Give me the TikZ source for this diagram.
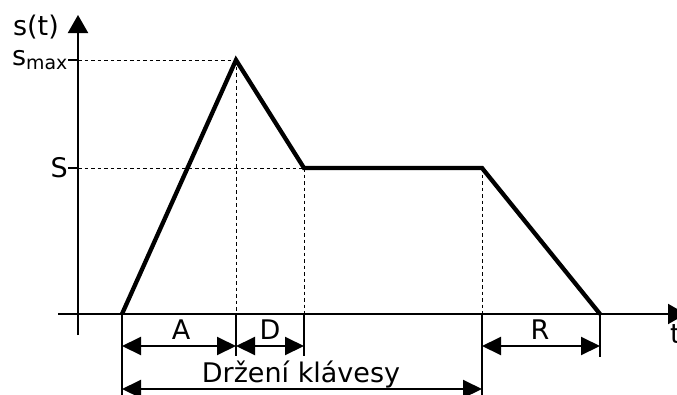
\documentclass[tikz,border=0pt]{standalone}
\usepackage{fontspec}
\setmainfont{DejaVu Sans}
\usetikzlibrary{arrows.meta}
\begin{document}
\begin{tikzpicture}[x=1pt,y=-1pt,
  axis/.style={line width=2pt,-{Triangle[length=18pt,width=20pt]}},
  curve/.style={line width=4.3pt,line join=miter},
  guide/.style={line width=1pt,dash pattern=on 3.5pt off 3pt},
  ext/.style={line width=1.3pt},
  dim/.style={line width=2pt,{Triangle[length=19pt,width=18pt]}-{Triangle[length=19pt,width=18pt]}},
  lbl/.style={font=\fontsize{27}{32}\selectfont,inner sep=0pt}]
\useasboundingbox (0,0) rectangle (677,394);
% key points
\coordinate (o) at (78,314);
\coordinate (p0) at (122,314);
\coordinate (p1) at (236,60);
\coordinate (p2) at (304,168);
\coordinate (p3) at (482,168);
\coordinate (p4) at (600,314);
\coordinate (ybot) at (78,335);
\coordinate (ytop) at (78,15);
\coordinate (xl) at (58,314);
\coordinate (xr) at (686,314);
\coordinate (ysm) at (78,60);
\coordinate (ys) at (78,168);
\coordinate (tsm) at (68,60);
\coordinate (ts) at (68,168);
\coordinate (b1) at (236,314);
\coordinate (b2) at (304,314);
\coordinate (b3) at (482,314);
\coordinate (e0) at (122,396);
\coordinate (e1) at (236,356);
\coordinate (e2) at (304,356);
\coordinate (e3) at (482,396);
\coordinate (e4) at (600,357);
\coordinate (a0) at (122,346);
\coordinate (a1) at (236,346);
\coordinate (a2) at (304,346);
\coordinate (a3) at (482,346);
\coordinate (a4) at (600,346);
\coordinate (h0) at (122,389);
\coordinate (h1) at (482,389);
% guides
\draw[guide] (ysm) -- (p1);
\draw[guide] (ys) -- (p2);
\draw[guide] (p1) -- (b1);
\draw[guide] (p2) -- (b2);
\draw[guide] (p3) -- (b3);
% axes
\draw[axis] (ybot) -- (ytop);
\draw[axis] (xl) -- (xr);
\draw[line width=2pt] (tsm) -- (ysm);
\draw[line width=2pt] (ts) -- (ys);
% extension lines
\draw[ext] (p0) -- (e0);
\draw[ext] (b1) -- (e1);
\draw[ext] (b2) -- (e2);
\draw[ext] (b3) -- (e3);
\draw[ext] (p4) -- (e4);
% curve
\draw[curve] (p0) -- (p1) -- (p2) -- (p3) -- (p4);
% dimension arrows
\draw[dim] (a0) -- (a1);
\draw[dim] (a1) -- (a2);
\draw[dim] (a3) -- (a4);
\draw[dim] (h0) -- (h1);
% labels
\node[lbl] (st) at (36,27) {s(t)};
\node[lbl,anchor=east] (smax) at (tsm) {s\textsubscript{max}};
\node[lbl,anchor=east] (S) at (ts) {S};
\node[lbl] (A) at (181,330) {A};
\node[lbl] (D) at (270,330) {D};
\node[lbl] (R) at (540,330) {R};
\node[lbl,anchor=base] (hold) at (301,382) {Držení klávesy};
\node[lbl,anchor=west] (t) at (670,334) {t};
\end{tikzpicture}
\end{document}
